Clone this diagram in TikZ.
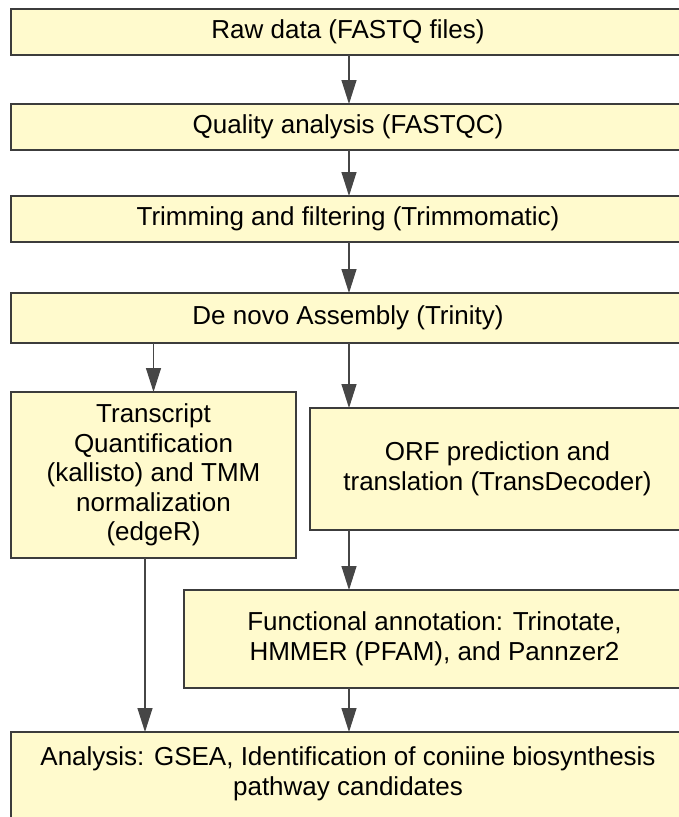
\documentclass[tikz,border=0pt]{standalone}
\usepackage{fontspec}
\setmainfont{Liberation Sans}
\usetikzlibrary{arrows.meta}
\definecolor{boxfill}{RGB}{255,250,205}
\definecolor{boxline}{RGB}{60,60,60}
\definecolor{arrowc}{RGB}{70,70,70}
\begin{document}
\begin{tikzpicture}[x=1pt,y=1pt,
  box/.style={draw=boxline, fill=boxfill, line width=1.2pt, inner sep=0pt, outer sep=0pt,
    align=center, font=\fontsize{26}{29.5}\selectfont},
  arr/.style={draw=arrowc, line width=1.2pt, -{Triangle[length=24pt,width=15pt,fill=arrowc]}}]
\useasboundingbox (0,0) rectangle (678,-817);
\node[box, minimum width=674pt, minimum height=46pt] (b1) at (348,-32) {Raw data (FASTQ files)};
\node[box, minimum width=674pt, minimum height=46pt] (b2) at (348,-127) {Quality analysis (FASTQC)};
\node[box, minimum width=674pt, minimum height=46pt] (b3) at (348,-219) {Trimming and filtering (Trimmomatic)};
\node[box, minimum width=674pt, minimum height=50pt] (b4) at (348,-318) {De novo Assembly (Trinity)};
\node[box, minimum width=285pt, minimum height=166pt] (b5) at (153.5,-475) {Transcript\\Quantification\\(kallisto) and TMM\\normalization\\(edgeR)};
\node[box, minimum width=375pt, minimum height=122pt] (b6) at (497.5,-469) {ORF prediction and\\translation (TransDecoder)};
\node[box, minimum width=501pt, minimum height=98pt] (b7) at (434.5,-639) {Functional annotation: Trinotate,\\HMMER (PFAM), and Pannzer2};
\node[box, minimum width=674pt, minimum height=103pt, anchor=north] (b8) at (348,-732) {};
\node[font=\fontsize{26}{29.5}\selectfont, align=center, inner sep=0pt] (t8) at (348,-774) {Analysis: GSEA, Identification of coniine biosynthesis\\pathway candidates};
\coordinate (cx) at (349,0);
\draw[arr] (b1.south -| cx) -- (b2.north -| cx);
\draw[arr] (b2.south -| cx) -- (b3.north -| cx);
\draw[arr] (b3.south -| cx) -- (b4.north -| cx);
\draw[arr] (b4.south -| b5.north) -- (b5.north);
\draw[arr] (b4.south -| cx) -- (b6.north -| cx);
\draw[arr] (b6.south -| cx) -- (b7.north -| cx);
\coordinate (lx) at (145,0);
\draw[arr] (b5.south -| lx) -- (b8.north -| lx);
\draw[arr] (b7.south -| cx) -- (b8.north -| cx);
\end{tikzpicture}
\end{document}
